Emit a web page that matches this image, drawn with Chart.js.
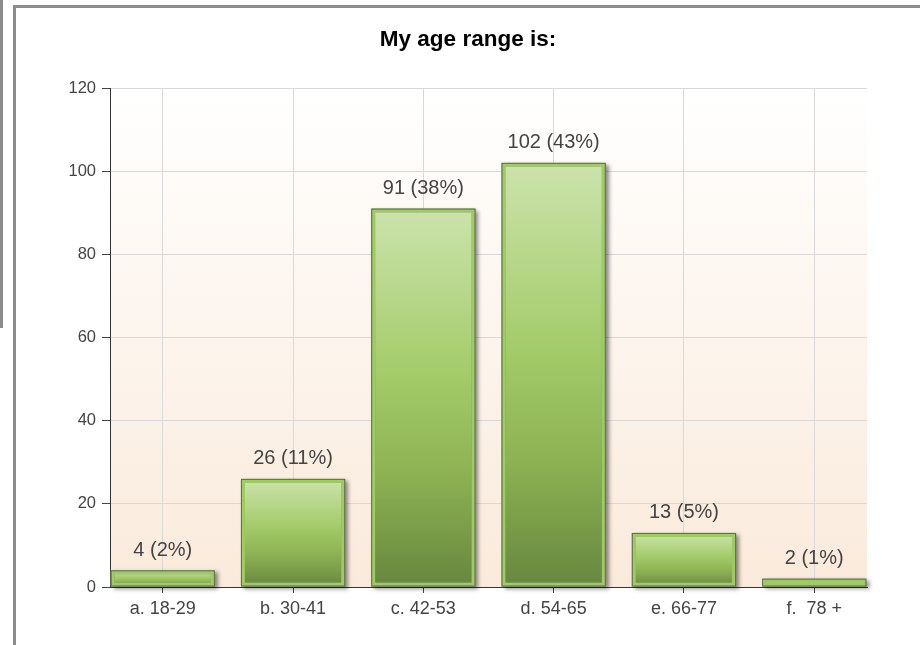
<!DOCTYPE html>
<html><head><meta charset="utf-8">
<script src="https://cdn.jsdelivr.net/npm/chart.js@4.4.1/dist/chart.umd.min.js"></script>
<style>
html,body{margin:0;padding:0;background:#fff;width:920px;height:645px;overflow:hidden;position:relative}
#outerLine{position:absolute;left:0;top:0;width:3px;height:328px;background:#8c8c8c}
#frameTop{position:absolute;left:13px;top:5px;width:907px;height:3px;background:#8c8c8c}
#frameLeft{position:absolute;left:13px;top:5px;width:3px;height:640px;background:#8c8c8c}
#wrap{position:absolute;left:16px;top:8px;width:904px;height:637px}
</style></head><body>
<div id="outerLine"></div><div id="frameTop"></div><div id="frameLeft"></div>
<div id="wrap"><canvas id="c" width="904" height="637"></canvas></div>
<script>
const chartTitle = 'My age range is:';
const categories = ['a. 18-29', 'b. 30-41', 'c. 42-53', 'd. 54-65', 'e. 66-77', 'f.  78 +'];
const counts = [4, 26, 91, 102, 13, 2];
const percents = [2, 11, 38, 43, 5, 1];
const yTicks = [0, 20, 40, 60, 80, 100, 120];

const FONT = '"Liberation Sans", Arial, sans-serif';

const bgPlugin = {
  id: 'bgPlugin',
  beforeDraw(chart) {
    const { ctx, chartArea: a } = chart;
    const g = ctx.createLinearGradient(0, a.top, 0, a.bottom);
    g.addColorStop(0, '#ffffff');
    g.addColorStop(1, '#faeadb');
    ctx.save();
    ctx.fillStyle = g;
    ctx.fillRect(a.left, a.top, a.right - a.left, a.bottom - a.top);
    ctx.restore();
  }
};

const barDeco = {
  id: 'barDeco',
  beforeDatasetsDraw(chart) {
    const ctx = chart.ctx;
    chart.getDatasetMeta(0).data.forEach((el) => {
      const p = el.getProps(['x', 'y', 'base', 'width'], true);
      ctx.save();
      ctx.shadowColor = 'rgba(0,0,0,0.45)';
      ctx.shadowBlur = 4;
      ctx.shadowOffsetX = 3;
      ctx.shadowOffsetY = 2;
      ctx.fillStyle = '#888';
      ctx.fillRect(p.x - p.width / 2, p.y, p.width, p.base - p.y);
      ctx.restore();
    });
  },
  afterDatasetsDraw(chart) {
    const ctx = chart.ctx;
    chart.getDatasetMeta(0).data.forEach((el, i) => {
      const p = el.getProps(['x', 'y', 'base', 'width'], true);
      ctx.save();
      ctx.strokeStyle = '#5f6d52';
      ctx.lineWidth = 1;
      ctx.strokeRect(p.x - p.width / 2 + 0.5, p.y + 0.5, p.width - 1, p.base - p.y - 1);
      ctx.fillStyle = '#444';
      ctx.font = '20px ' + FONT;
      ctx.textAlign = 'center';
      ctx.textBaseline = 'middle';
      ctx.fillText(counts[i] + ' (' + percents[i] + '%)', p.x, p.y - 20);
      ctx.restore();
    });
  }
};

new Chart(document.getElementById('c'), {
  type: 'bar',
  data: {
    datasets: [{
      data: counts.map((v, i) => ({ x: i, y: v })),
      backgroundColor: (c) => {
        const chart = c.chart;
        if (!chart.chartArea || c.type !== 'data') return '#9dc862';
        const ys = chart.scales.y;
        const top = ys.getPixelForValue(c.raw.y);
        const bottom = ys.getPixelForValue(0);
        const g = chart.ctx.createLinearGradient(0, top, 0, bottom);
        g.addColorStop(0, '#cce3ac');
        g.addColorStop(0.45, '#a2cb68');
        g.addColorStop(0.7, '#8db253');
        g.addColorStop(1, '#66873f');
        return g;
      },
      borderColor: '#9ecc61',
      borderWidth: 4,
      borderSkipped: false,
      barPercentage: 1,
      categoryPercentage: 0.8
    }]
  },
  options: {
    responsive: false,
    animation: false,
    devicePixelRatio: 1,
    layout: { padding: { left: 0, right: 0, top: 0, bottom: 28 } },
    plugins: {
      legend: { display: false },
      tooltip: { enabled: false },
      title: {
        display: true,
        text: chartTitle,
        color: '#000',
        font: { family: FONT, size: 22.5, weight: 'bold' },
        padding: { top: 18.5, bottom: 34.5 }
      }
    },
    scales: {
      x: {
        type: 'linear',
        offset: false,
        min: -0.405,
        max: categories.length - 1 + 0.405,
        afterFit: (s) => { s.height = 30; },
        grid: { offset: false, color: '#d9d9d9', tickColor: '#444', tickLength: 6, drawOnChartArea: true },
        border: { color: '#333', width: 1 },
        ticks: {
          stepSize: 1,
          includeBounds: false,
          autoSkip: false,
          maxRotation: 0,
          padding: 5,
          color: '#444',
          font: { family: FONT, size: 18 },
          callback: (v) => (Number.isInteger(v) && categories[v] !== undefined) ? categories[v] : ''
        }
      },
      y: {
        min: yTicks[0],
        max: yTicks[yTicks.length - 1],
        afterFit: (s) => { s.width = 94; },
        grid: { color: '#d9d9d9', tickColor: '#444', tickLength: 8 },
        border: { color: '#333', width: 1 },
        ticks: {
          stepSize: yTicks[1] - yTicks[0],
          padding: 6,
          color: '#444',
          font: { family: FONT, size: 16.5 }
        }
      },
      yRight: {
        position: 'right',
        min: yTicks[0],
        max: yTicks[yTicks.length - 1],
        afterFit: (s) => { s.width = 53; },
        grid: { display: false, drawOnChartArea: false },
        border: { display: false },
        ticks: { display: false }
      }
    }
  },
  plugins: [bgPlugin, barDeco]
});
</script>
</body></html>
